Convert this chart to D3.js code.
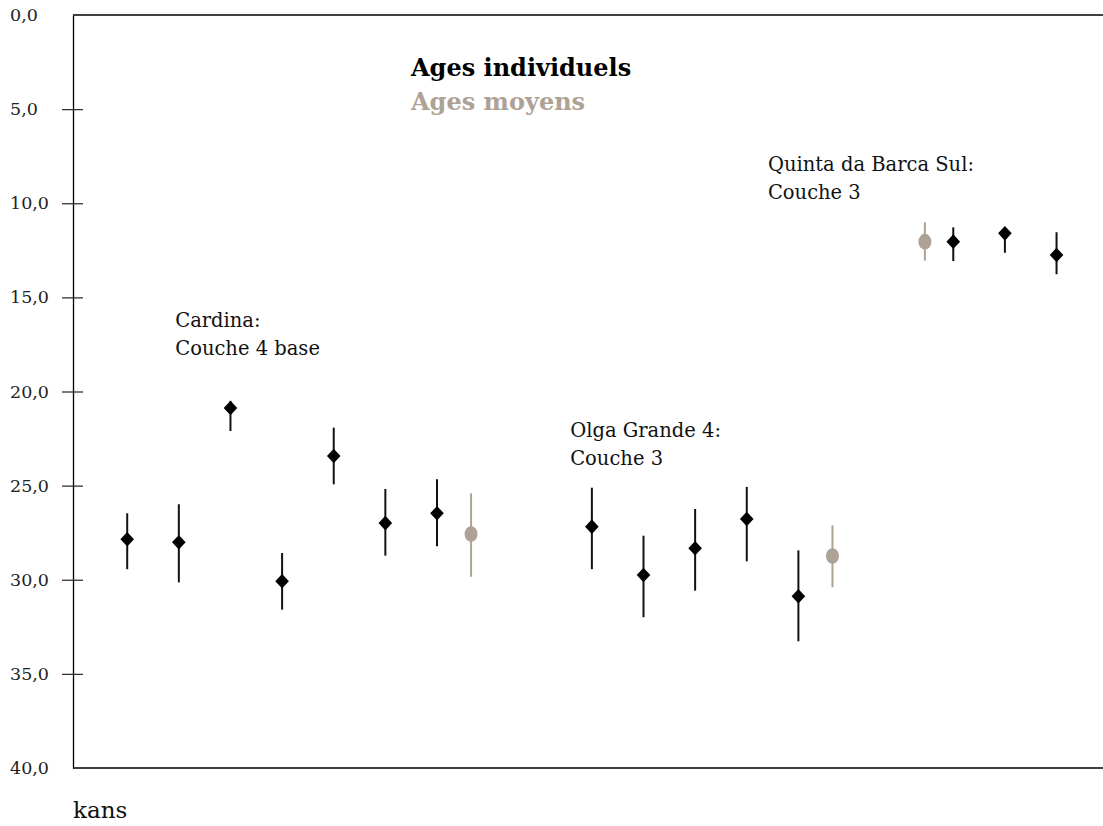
<!DOCTYPE html>
<html>
<head>
<meta charset="utf-8">
<script src="https://cdn.jsdelivr.net/npm/d3@7"></script>
<style>
  body { margin: 0; background: #fff; }
  svg { display: block; font-family: "DejaVu Serif", "Liberation Serif", serif; }
</style>
</head>
<body>
<svg id="chart" width="1103" height="826"></svg>
<script>
// individual ages (ka), with error bounds
const indivPos = [0, 1, 2, 3, 4, 5, 6, 9, 10, 11, 12, 13, 16, 17, 18];
const indivAge = [27.85, 28.01, 20.88, 30.08, 23.43, 26.99, 26.47, 27.18, 29.75, 28.33, 26.77, 30.88, 12.04, 11.6, 12.75];
const indivLow = [26.47, 25.99, 20.5, 28.58, 21.92, 25.18, 24.66, 25.11, 27.66, 26.24, 25.07, 28.44, 11.28, 11.4, 11.54];
const indivHigh = [29.44, 30.14, 22.1, 31.59, 24.93, 28.72, 28.22, 29.44, 31.99, 30.58, 29.02, 33.27, 13.07, 12.63, 13.77];

// mean ages
const meanPos = [6.66, 13.66, 15.45];
const meanAge = [27.57, 28.74, 12.04];
const meanLow = [25.41, 27.11, 11.01];
const meanHigh = [29.84, 30.4, 13.05];

const siteNames = [["Cardina:", "Couche 4 base"], ["Olga Grande 4:", "Couche 3"], ["Quinta da Barca Sul:", "Couche 3"]];
const sitePos = [0.93, 8.58, 12.41];
const siteAge = [16.6, 22.4, 8.3];

const yTicks = [0, 5, 10, 15, 20, 25, 30, 35, 40];

const grey = "#aea196";
const svg = d3.select("#chart");

const x = d3.scaleLinear().domain([-1.05, 18.9]).range([73, 1103]);
const y = d3.scaleLinear().domain([0, 40]).range([15, 768]);

// frame
svg.append("line").attr("x1", 73).attr("x2", 1103).attr("y1", y(0)).attr("y2", y(0))
  .attr("stroke", "#000").attr("stroke-width", 1.3);
svg.append("line").attr("x1", 73).attr("x2", 1103).attr("y1", y(40)).attr("y2", y(40))
  .attr("stroke", "#000").attr("stroke-width", 1.3);

const yAxis = d3.axisLeft(y).tickValues(yTicks).tickSize(0).tickFormat(d => d3.format(".1f")(d).replace(".", ","));
const ag = svg.append("g").attr("transform", "translate(73,0)").call(yAxis);
ag.select(".domain").attr("stroke", "#000").attr("stroke-width", 1.3);
ag.selectAll(".tick text").attr("x", -63).attr("text-anchor", "start")
  .attr("font-size", 17.5).attr("fill", "#222").attr("font-family", "DejaVu Serif, serif");
ag.selectAll(".tick").filter(d => d > 0 && d < 40).append("line")
  .attr("x1", -11).attr("x2", 10).attr("stroke", "#333").attr("stroke-width", 1.3);

// individual points
const ind = indivPos.map((p, i) => ({ p, v: indivAge[i], lo: indivLow[i], hi: indivHigh[i] }));
svg.selectAll(".ierr").data(ind).join("line").attr("class", "ierr")
  .attr("x1", d => x(d.p)).attr("x2", d => x(d.p))
  .attr("y1", d => y(d.lo)).attr("y2", d => y(d.hi))
  .attr("stroke", "#111").attr("stroke-width", 2);
svg.selectAll(".dia").data(ind).join("path").attr("class", "dia")
  .attr("d", "M0,-7.3L6.8,0L0,7.3L-6.8,0Z")
  .attr("transform", d => `translate(${x(d.p)},${y(d.v)})`)
  .attr("fill", "#000");

// means
const mn = meanPos.map((p, i) => ({ p, v: meanAge[i], lo: meanLow[i], hi: meanHigh[i] }));
svg.selectAll(".merr").data(mn).join("line").attr("class", "merr")
  .attr("x1", d => x(d.p)).attr("x2", d => x(d.p))
  .attr("y1", d => y(d.lo)).attr("y2", d => y(d.hi))
  .attr("stroke", grey).attr("stroke-width", 2);
svg.selectAll(".mdot").data(mn).join("ellipse").attr("class", "mdot")
  .attr("cx", d => x(d.p)).attr("cy", d => y(d.v))
  .attr("rx", 6.5).attr("ry", 7.8).attr("fill", grey);

// site labels
siteNames.forEach((lines, i) => {
  const t = svg.append("text").attr("x", x(sitePos[i])).attr("y", y(siteAge[i]))
    .attr("font-size", 19.5).attr("fill", "#111");
  lines.forEach((l, j) => t.append("tspan").attr("x", x(sitePos[i])).attr("dy", j ? 28 : 0).text(l));
});

// legend
svg.append("text").attr("x", 411).attr("y", 76).attr("font-size", 24).attr("font-weight", "bold")
  .attr("fill", "#000").text("Ages individuels");
svg.append("text").attr("x", 411).attr("y", 110).attr("font-size", 24).attr("font-weight", "bold")
  .attr("fill", grey).text("Ages moyens");

// unit
svg.append("text").attr("x", 73).attr("y", 818).attr("font-size", 23).attr("fill", "#111").text("kans");
</script>
</body>
</html>
